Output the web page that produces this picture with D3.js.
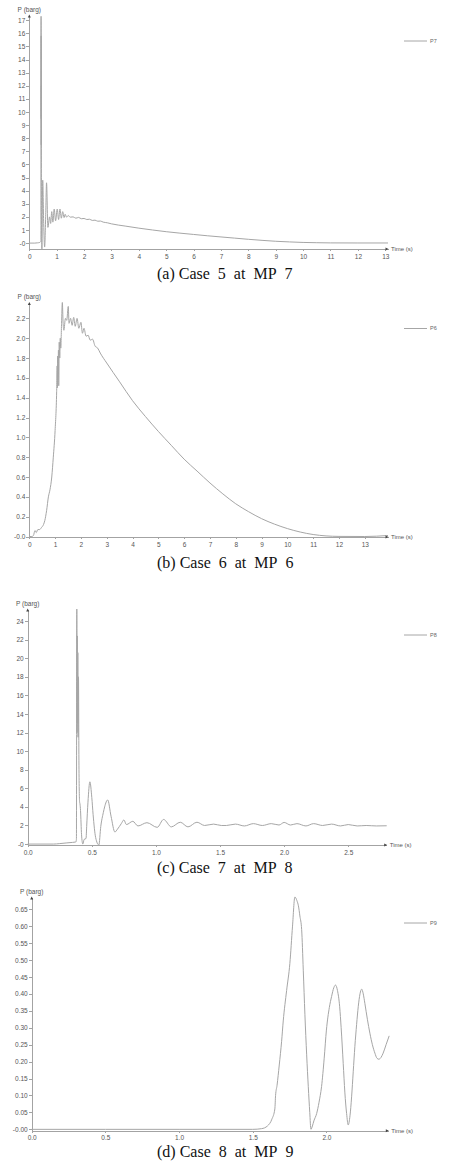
<!DOCTYPE html>
<html>
<head>
<meta charset="utf-8">
<script src="https://cdn.jsdelivr.net/npm/d3@7"></script>
<style>
  body { margin: 0; background: #fff; }
  svg { display: block; }
  .chart__axis path, .chart__axis line { stroke: #a3a3a3; shape-rendering: crispEdges; }
  .chart__axis text { fill: #555; font-family: "Liberation Sans", Arial, sans-serif; font-size: 6.5px; }
  .chart__line { fill: none; stroke: #a6a6a6; stroke-width: 1; }
  .chart__arrow { fill: #444; }
  .chart__label { fill: #555; font-family: "Liberation Sans", Arial, sans-serif; font-size: 6.5px; }
  .chart__legend-line { stroke: #a6a6a6; }
  .chart__legend-text { fill: #666; font-family: "Liberation Sans", Arial, sans-serif; font-size: 5.5px; }
  .chart__caption { fill: #111; font-family: "Liberation Serif", "Times New Roman", serif; font-size: 16px; }
</style>
</head>
<body>
<svg id="chart" width="450" height="1170"></svg>
<script>
// ---- data ----
var seriesP7 = [[0,0],[0.1,0],[0.2,0],[0.3,0.02],[0.38,0.05],[0.41,0.1],[0.425,0.2],
  [0.43,17.3],[0.433,9.5],[0.435,15.8],[0.437,7.5],[0.439,12],[0.441,5],[0.444,2],[0.46,-0.45],
  [0.49,4.8],[0.525,1.5],[0.56,-0.3],[0.6,2.2],[0.63,4.6],[0.68,1.2],[0.74,2.0],[0.78,1.5],[0.82,2.4],
  [0.86,1.6],[0.91,2.6],[0.96,1.7],[1.02,2.6],[1.07,1.8],[1.12,2.6],[1.17,1.9],[1.22,2.4],[1.27,1.95],
  [1.31,2.2],[1.36,1.98],[1.42,2.1],[1.5,1.98],[1.6,2.0],[1.7,1.9],[1.8,1.96],[1.9,1.86],[2.0,1.88],
  [2.1,1.8],[2.2,1.82],[2.3,1.73],[2.4,1.75],[2.5,1.67],[2.6,1.68],[2.7,1.6],[2.85,1.55],[3.0,1.47],
  [3.5,1.3],[4.0,1.14],[4.5,1.0],[5.0,0.87],[5.5,0.76],[6.0,0.66],[6.5,0.56],[7.0,0.47],[7.5,0.38],
  [8.0,0.29],[8.5,0.21],[9.0,0.14],[9.5,0.09],[10.0,0.05],[10.5,0.03],[11.0,0.015],[12.0,0.01],[13.1,0.01]];

var seriesP6 = [[0,0],[0.1,0],[0.16,0.01],[0.22,0.06],[0.27,0.04],[0.33,0.07],[0.4,0.07],[0.47,0.09],
  [0.55,0.12],[0.6,0.16],[0.67,0.26],[0.74,0.4],[0.8,0.47],[0.87,0.6],[0.93,0.8],[1.0,1.07],[1.06,1.46],
  [1.08,1.72],[1.09,1.5],[1.1,1.82],[1.11,1.6],[1.13,1.88],[1.14,1.52],[1.16,1.96],[1.18,1.8],[1.2,2.0],
  [1.22,1.9],[1.25,2.15],[1.28,2.36],[1.31,2.15],[1.34,2.08],[1.4,2.2],[1.45,2.18],[1.51,2.32],[1.54,2.15],
  [1.6,2.2],[1.66,2.13],[1.72,2.21],[1.78,2.12],[1.85,2.2],[1.92,2.1],[2.0,2.16],[2.06,2.05],[2.12,2.1],
  [2.2,2.02],[2.28,2.03],[2.36,1.98],[2.45,1.99],[2.55,1.92],[2.65,1.9],[2.75,1.85],[3.0,1.75],[3.5,1.56],
  [4.0,1.37],[4.5,1.21],[5.0,1.06],[5.5,0.92],[6.0,0.78],[6.5,0.66],[7.0,0.54],[7.5,0.43],[8.0,0.33],
  [8.5,0.25],[9.0,0.18],[9.5,0.125],[10.0,0.08],[10.5,0.045],[11.0,0.02],[11.5,0.006],[12.0,0.001],[13.0,0],[13.9,0.01]];

var seriesP8 = [[0,0],[0.2,0],[0.25,0.05],[0.3,0.12],[0.35,0.18],[0.375,0.22],[0.38,0.5],
  [0.383,25.3],[0.385,12],[0.387,22.4],[0.389,13],[0.391,20.6],[0.393,11.5],[0.396,18],[0.4,8],
  [0.405,4.5],[0.408,4.3],[0.412,3.6],[0.42,1.0],[0.43,0],[0.44,0.5],[0.455,0.6],[0.46,1.9],[0.47,4.5],
  [0.485,6.7],[0.5,5.0],[0.51,3.2],[0.53,0.7],[0.555,-0.1],[0.57,1.9],[0.59,3.4],[0.6,4.0],[0.624,4.75],
  [0.65,3.0],[0.68,1.3],[0.7,1.6],[0.73,2.2],[0.75,2.6],[0.77,2.1],[0.82,2.45],[0.86,1.95],[0.93,2.3],
  [1.01,1.8],[1.06,2.65],[1.12,1.85],[1.19,2.35],[1.25,1.85],[1.32,2.35],[1.38,2.0],[1.45,2.15],[1.51,2.0],
  [1.55,2.0],[1.62,2.15],[1.69,1.95],[1.76,2.2],[1.83,2.0],[1.9,2.2],[1.96,2.05],[2.0,2.33],[2.05,2.05],
  [2.1,2.2],[2.17,1.95],[2.23,2.2],[2.3,2.0],[2.37,2.15],[2.44,1.95],[2.5,2.1],[2.57,1.95],[2.64,2.0],
  [2.72,1.95],[2.8,1.97]];

var seriesP9 = [[0,0],[0.5,0],[1.0,0],[1.5,0],[1.56,0.002],[1.6,0.01],[1.63,0.03],[1.65,0.06],[1.655,0.1],
  [1.665,0.13],[1.68,0.19],[1.696,0.26],[1.707,0.32],[1.73,0.41],[1.752,0.49],[1.77,0.6],[1.786,0.686],
  [1.8,0.675],[1.81,0.66],[1.82,0.63],[1.832,0.59],[1.843,0.47],[1.854,0.34],[1.866,0.22],[1.877,0.126],
  [1.887,0.05],[1.895,0],[1.905,0.01],[1.915,0.025],[1.934,0.047],[1.95,0.08],[1.967,0.126],[1.985,0.21],
  [2.0,0.293],[2.02,0.36],[2.035,0.392],[2.05,0.418],[2.062,0.426],[2.075,0.41],[2.09,0.362],[2.1,0.3],
  [2.114,0.195],[2.125,0.11],[2.137,0.047],[2.148,0.013],[2.16,0.04],[2.171,0.096],[2.182,0.17],
  [2.193,0.244],[2.205,0.31],[2.216,0.362],[2.228,0.4],[2.239,0.414],[2.25,0.4],[2.261,0.372],
  [2.278,0.325],[2.295,0.284],[2.312,0.25],[2.329,0.225],[2.343,0.21],[2.356,0.207],[2.37,0.212],
  [2.385,0.225],[2.405,0.25],[2.426,0.276]];

var yTicksA = [0,1,2,3,4,5,6,7,8,9,10,11,12,13,14,15,16,17];
var yLabelsA = ["-0","1","2","3","4","5","6","7","8","9","10","11","12","13","14","15","16","17"];
var xTicksA = [0,1,2,3,4,5,6,7,8,9,10,11,12,13];

var yTicksB = [0,0.2,0.4,0.6,0.8,1.0,1.2,1.4,1.6,1.8,2.0,2.2];
var yLabelsB = ["-0.0","0.2","0.4","0.6","0.8","1.0","1.2","1.4","1.6","1.8","2.0","2.2"];
var xTicksB = [0,1,2,3,4,5,6,7,8,9,10,11,12,13];

var yTicksC = [0,2,4,6,8,10,12,14,16,18,20,22,24];
var yLabelsC = ["-0","2","4","6","8","10","12","14","16","18","20","22","24"];
var xTicksC = [0,0.5,1.0,1.5,2.0,2.5];

var yTicksD = [0,0.05,0.1,0.15,0.2,0.25,0.3,0.35,0.4,0.45,0.5,0.55,0.6,0.65];
var yLabelsD = ["-0.00","0.05","0.10","0.15","0.20","0.25","0.30","0.35","0.40","0.45","0.50","0.55","0.60","0.65"];
var xTicksD = [0,0.5,1.0,1.5,2.0];

var seriesNames = ["P7", "P6", "P8", "P9"];
var captions = ["(a) Case\u00a0\u00a05\u00a0\u00a0at\u00a0\u00a0MP\u00a0\u00a07",
                "(b) Case\u00a0\u00a06\u00a0\u00a0at\u00a0\u00a0MP\u00a0\u00a06",
                "(c) Case\u00a0\u00a07\u00a0\u00a0at\u00a0\u00a0MP\u00a0\u00a08",
                "(d) Case\u00a0\u00a08\u00a0\u00a0at\u00a0\u00a0MP\u00a0\u00a09"];

// ---- layout (pixel boxes for each panel) ----
var panels = [
  { data: seriesP7, xDomain: [0, 13.1], yDomain: [-0.45, 17.4], xTicks: xTicksA, xFmt: d3.format("d"),
    yTicks: yTicksA, yLabels: yLabelsA, left: 29.3, right: 388, top: 15, bottom: 249, caption: 279 },
  { data: seriesP6, xDomain: [0, 13.9], yDomain: [-0.005, 2.36], xTicks: xTicksB, xFmt: d3.format("d"),
    yTicks: yTicksB, yLabels: yLabelsB, left: 29.3, right: 388, top: 302.5, bottom: 537, caption: 568 },
  { data: seriesP8, xDomain: [0, 2.8], yDomain: [-0.1, 25.3], xTicks: xTicksC, xFmt: d3.format(".1f"),
    yTicks: yTicksC, yLabels: yLabelsC, left: 27.7, right: 386.7, top: 609, bottom: 845, caption: 873 },
  { data: seriesP9, xDomain: [0, 2.42], yDomain: [-0.004, 0.686], xTicks: xTicksD, xFmt: d3.format(".1f"),
    yTicks: yTicksD, yLabels: yLabelsD, left: 31.7, right: 388.3, top: 897, bottom: 1130.7, caption: 1157 }
];

var svg = d3.select("#chart");

function renderPanel(p, i) {
  var g = svg.append("g").attr("class", "chart__panel");
  var x = d3.scaleLinear().domain(p.xDomain).range([p.left, p.right]);
  var y = d3.scaleLinear().domain(p.yDomain).range([p.bottom, p.top]);

  // smooth like the solver's plot, without overshoot
  var line = d3.line()
    .curve(d3.curveMonotoneX)
    .x(function (d) { return x(d[0]) })
    .y(function (d) { return y(d[1]) });

  // axes
  g.append("g")
    .attr("class", "chart__axis chart__axis--y")
    .attr("transform", "translate(" + p.left + ",0)")
    .call(d3.axisLeft(y).tickValues(p.yTicks).tickSize(3).tickSizeOuter(0).tickPadding(1)
      .tickFormat(function (d, j) { return p.yLabels[j] }));

  g.append("g")
    .attr("class", "chart__axis chart__axis--x")
    .attr("transform", "translate(0," + p.bottom + ")")
    .call(d3.axisBottom(x).tickValues(p.xTicks).tickSize(2).tickSizeOuter(0).tickPadding(3)
      .tickFormat(p.xFmt));

  // the curve
  g.append("path")
    .datum(p.data)
    .attr("class", "chart__line")
    .attr("d", line);

  // arrow heads
  g.append("path")
    .attr("class", "chart__arrow")
    .attr("d", "M" + (p.left - 1.5) + "," + (p.top + 2.5) + "L" + p.left + "," + (p.top - 0.5) +
      "L" + (p.left + 1.5) + "," + (p.top + 2.5) + "Z");
  g.append("path")
    .attr("class", "chart__arrow")
    .attr("d", "M" + (p.right - 2.5) + "," + (p.bottom - 1.5) + "L" + (p.right + 0.5) + "," + p.bottom +
      "L" + (p.right - 2.5) + "," + (p.bottom + 1.5) + "Z");

  // axis titles
  g.append("text")
    .attr("class", "chart__label")
    .attr("x", p.left)
    .attr("y", p.top - 3.5)
    .attr("text-anchor", "middle")
    .text("P (barg)");
  g.append("text")
    .attr("class", "chart__label")
    .attr("x", p.right + 3)
    .attr("y", p.bottom)
    .attr("dy", "0.35em")
    .style("font-size", "6px")
    .text("Time (s)");

  // legend
  g.append("line")
    .attr("class", "chart__legend-line")
    .attr("x1", 404).attr("x2", 427)
    .attr("y1", p.top + 26).attr("y2", p.top + 26);
  g.append("text")
    .attr("class", "chart__legend-text")
    .attr("x", 430)
    .attr("y", p.top + 26)
    .attr("dy", "0.35em")
    .text(seriesNames[i]);

  // caption
  g.append("text")
    .attr("class", "chart__caption")
    .attr("x", 157)
    .attr("y", p.caption)
    .text(captions[i]);
}

panels.forEach(renderPanel);
</script>
</body>
</html>
